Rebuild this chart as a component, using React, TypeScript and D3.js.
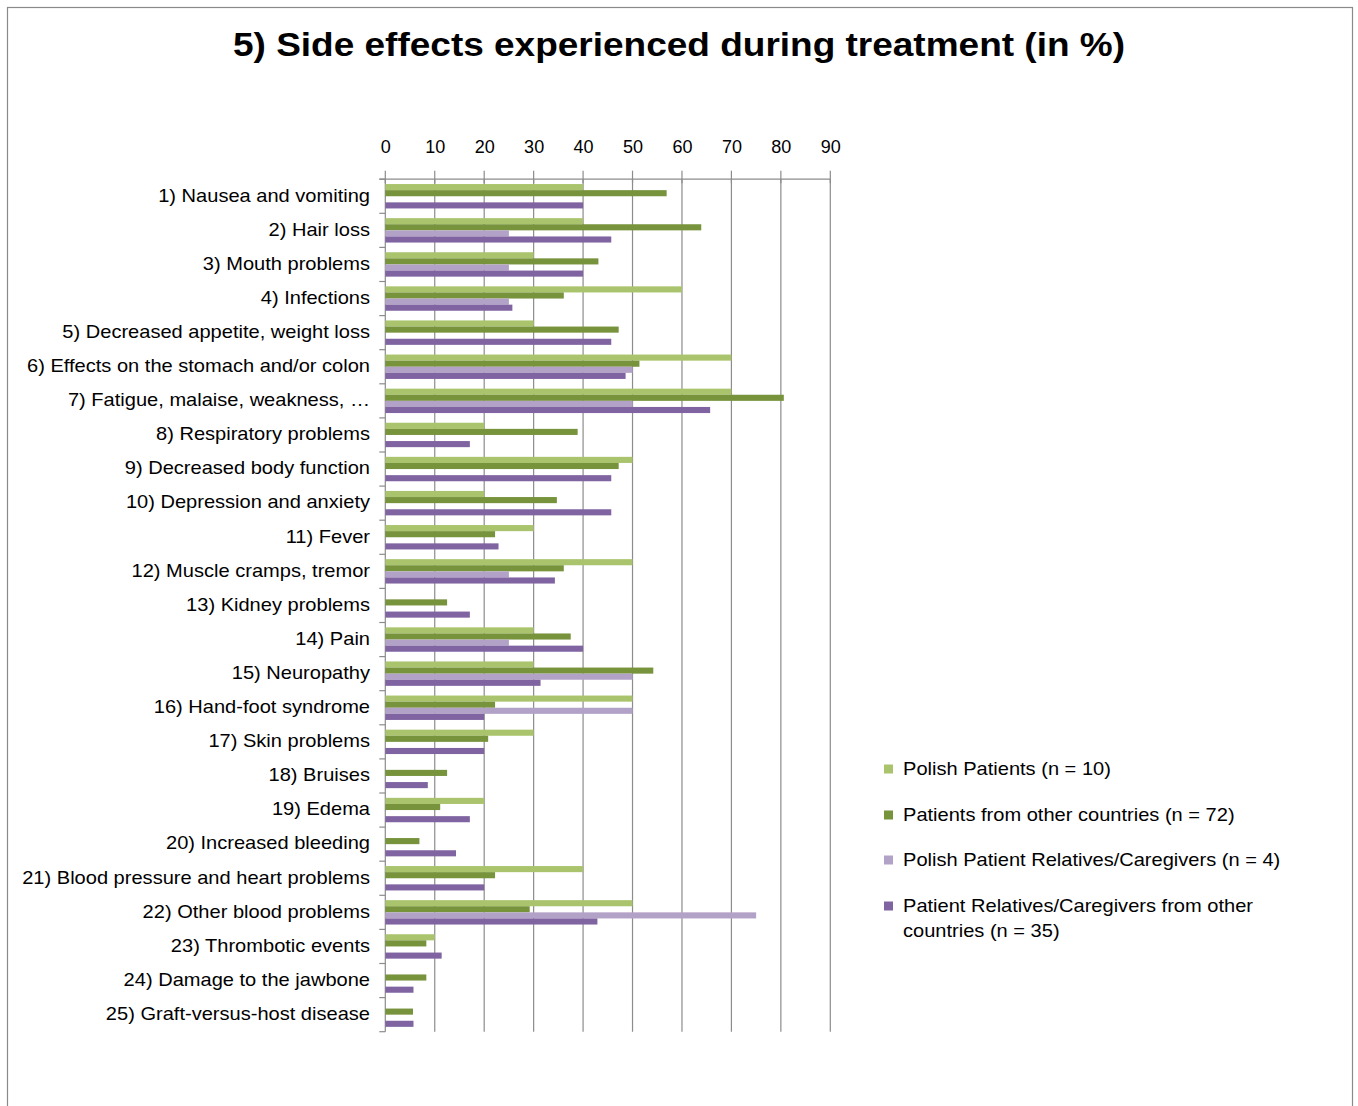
import React, { useRef, useEffect } from "react";
import * as d3 from "d3";

// categories, top to bottom
const categories = [
  "1) Nausea and vomiting",
  "2) Hair loss",
  "3) Mouth problems",
  "4) Infections",
  "5) Decreased appetite, weight loss",
  "6) Effects on the stomach and/or colon",
  "7) Fatigue, malaise, weakness, …",
  "8) Respiratory problems",
  "9) Decreased body function",
  "10) Depression and anxiety",
  "11) Fever",
  "12) Muscle cramps, tremor",
  "13) Kidney problems",
  "14) Pain",
  "15) Neuropathy",
  "16) Hand-foot syndrome",
  "17) Skin problems",
  "18) Bruises",
  "19) Edema",
  "20) Increased bleeding",
  "21) Blood pressure and heart problems",
  "22) Other blood problems",
  "23) Thrombotic events",
  "24) Damage to the jawbone",
  "25) Graft-versus-host disease",
];

const polishPatients = [40, 40, 30, 60, 30, 70, 70, 20, 50, 20, 30, 50, 0, 30, 30, 50, 30, 0, 20, 0, 40, 50, 10, 0, 0];
const otherPatients = [56.9, 63.9, 43.1, 36.1, 47.2, 51.4, 80.6, 38.9, 47.2, 34.7, 22.2, 36.1, 12.5, 37.5, 54.2, 22.2, 20.8, 12.5, 11.1, 6.9, 22.2, 29.2, 8.3, 8.3, 5.6];
const polishRelatives = [0, 25, 25, 25, 0, 50, 50, 0, 0, 0, 0, 25, 0, 25, 50, 50, 0, 0, 0, 0, 0, 75, 0, 0, 0];
const otherRelatives = [40, 45.7, 40, 25.7, 45.7, 48.6, 65.7, 17.1, 45.7, 45.7, 22.9, 34.3, 17.1, 40, 31.4, 20, 20, 8.6, 17.1, 14.3, 20, 42.9, 11.4, 5.7, 5.7];

const seriesNames = [
  ["Polish Patients (n = 10)"],
  ["Patients from other countries (n = 72)"],
  ["Polish Patient Relatives/Caregivers (n = 4)"],
  ["Patient Relatives/Caregivers from other", "countries (n = 35)"],
];
const seriesColors = ["#a9c46c", "#77933c", "#b3a2c7", "#8064a2"];
const xTicks = [0, 10, 20, 30, 40, 50, 60, 70, 80, 90];

const W = 1358;
const H = 1106;
const FONT = "Liberation Sans, Arial, sans-serif";
const STRETCH = 1.115; // the original text is a bit wider than Arial

const App = () => {
  const svgRef = useRef(null);

  useEffect(() => {
    const svg = d3.select(svgRef.current);
    svg.selectAll("*").remove();

    const left = 385.3;
    const right = 830.3;
    const top = 179.2;
    const bottom = 1031.7;

    const x = d3.scaleLinear().domain([0, 90]).range([left, right]);
    const y = d3.scaleBand().domain(categories).range([top, bottom]).paddingInner(0).paddingOuter(0);
    const inner = d3.scaleBand()
      .domain(["0", "1", "2", "3"])
      .range([4.85, y.bandwidth() - 4.85]);

    // frame
    svg.append("rect")
      .attr("x", 7.5).attr("y", 7.5)
      .attr("width", 1345).attr("height", 1120)
      .attr("fill", "white").attr("stroke", "#8a8a8a").attr("stroke-width", 1.2);

    // title
    svg.append("text")
      .attr("x", 679).attr("y", 56)
      .attr("text-anchor", "middle")
      .attr("font-family", FONT).attr("font-weight", "bold").attr("font-size", 33)
      .attr("textLength", 892).attr("lengthAdjust", "spacingAndGlyphs")
      .attr("fill", "#000")
      .text("5) Side effects experienced during treatment (in %)");

    // vertical gridlines
    svg.append("g").selectAll("line")
      .data(xTicks.slice(1))
      .join("line")
      .attr("x1", d => x(d)).attr("x2", d => x(d))
      .attr("y1", top).attr("y2", bottom)
      .attr("stroke", "#8c8c8c").attr("stroke-width", 1.2);

    // top axis
    const xAxis = d3.axisTop(x).tickValues(xTicks).tickSize(0).tickPadding(0);
    const gx = svg.append("g").attr("transform", `translate(0, ${top})`).call(xAxis);
    gx.select(".domain").remove();
    gx.selectAll("text")
      .attr("y", -26)
      .attr("font-family", FONT).attr("font-size", 18).attr("fill", "#000");
    svg.append("line")
      .attr("x1", left - 6).attr("x2", right).attr("y1", top).attr("y2", top)
      .attr("stroke", "#8c8c8c").attr("stroke-width", 1.2);
    svg.append("g").selectAll("line")
      .data(xTicks)
      .join("line")
      .attr("x1", d => x(d)).attr("x2", d => x(d))
      .attr("y1", top - 8.5).attr("y2", top + 4)
      .attr("stroke", "#8c8c8c").attr("stroke-width", 1.2);

    // left axis
    svg.append("line")
      .attr("x1", left).attr("x2", left).attr("y1", top).attr("y2", bottom)
      .attr("stroke", "#8c8c8c").attr("stroke-width", 1.2);
    svg.append("g").selectAll("line")
      .data(categories.map((c, i) => i).concat([categories.length]))
      .join("line")
      .attr("x1", left - 6).attr("x2", left)
      .attr("y1", d => top + d * y.step()).attr("y2", d => top + d * y.step())
      .attr("stroke", "#8c8c8c").attr("stroke-width", 1.2);

    // category labels
    svg.append("g").selectAll("text")
      .data(categories)
      .join("text")
      .attr("transform", d => `translate(370, ${y(d) + y.bandwidth() / 2 - 1}) scale(${STRETCH}, 1)`)
      .attr("dy", "0.35em")
      .attr("text-anchor", "end")
      .attr("font-family", FONT).attr("font-size", 18).attr("fill", "#000")
      .text(d => d);

    // bars
    const allSeries = [polishPatients, otherPatients, polishRelatives, otherRelatives];
    allSeries.forEach((vals, s) => {
      svg.append("g").selectAll("rect")
        .data(vals.map((v, i) => ({ v, c: categories[i] })).filter(d => d.v > 0))
        .join("rect")
        .attr("x", x(0))
        .attr("y", d => y(d.c) + inner(String(s)))
        .attr("width", d => x(d.v) - x(0))
        .attr("height", inner.bandwidth())
        .attr("fill", seriesColors[s]);
    });

    // legend
    const legendY = [769, 815, 860, 906];
    const lg = svg.append("g");
    seriesNames.forEach((lines, i) => {
      lg.append("rect")
        .attr("x", 884).attr("y", legendY[i] - 4.5)
        .attr("width", 9).attr("height", 9)
        .attr("fill", seriesColors[i]);
      lines.forEach((line, j) => {
        lg.append("text")
          .attr("transform", `translate(903, ${legendY[i] + j * 25}) scale(${STRETCH}, 1)`)
          .attr("dy", "0.35em")
          .attr("font-family", FONT).attr("font-size", 18).attr("fill", "#000")
          .text(line);
      });
    });
  });

  return (
    <div style={{ position: "absolute", left: 0, top: 0 }}>
      <svg ref={svgRef} width={W} height={H} style={{ display: "block" }}></svg>
    </div>
  );
};

export default App;
